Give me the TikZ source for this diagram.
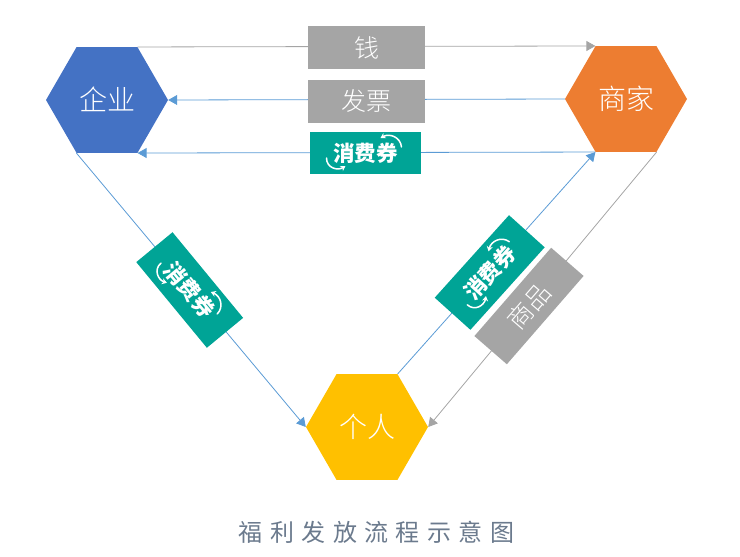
\documentclass[tikz,border=0pt]{standalone}
\usepackage{fontspec}
\setmainfont{Noto Sans CJK SC}[UprightFont=* Light,BoldFont=* Black]
\newfontfamily\titlefont{Noto Sans CJK SC}[LetterSpace=31]
\usetikzlibrary{shapes.geometric,arrows.meta}
\definecolor{hexblue}{HTML}{4472C4}
\definecolor{hexorange}{HTML}{ED7D31}
\definecolor{hexyellow}{HTML}{FFC000}
\definecolor{boxgray}{HTML}{A5A5A5}
\definecolor{boxteal}{HTML}{00A496}
\definecolor{linkblue}{HTML}{5B9BD5}
\definecolor{captionslate}{HTML}{6B7A8D}
\tikzset{
  x=1pt,y=-1pt,
  hexnode/.style={regular polygon,regular polygon sides=6,minimum size=122pt,inner sep=0pt,
    text=white,font=\fontsize{28}{30}\selectfont},
  graybox/.style={fill=boxgray,minimum width=117pt,minimum height=43pt,inner sep=0pt,
    text=white,font=\fontsize{25}{28}\selectfont},
  vouchertag/.style={fill=boxteal,minimum width=111pt,minimum height=42pt,inner sep=0pt,
    text=white,font=\fontsize{21.5}{24}\selectfont\bfseries},
  graylink/.style={draw=boxgray,line width=0.8pt,-{Triangle[length=9pt,width=10pt]}},
  bluelink/.style={draw=linkblue,line width=0.8pt,-{Triangle[length=9pt,width=10pt]}},
  swirl/.style={draw=white,line width=1.5pt,line cap=round,-{Stealth[length=5pt,width=6pt]}},
}
% Two curved arrows around the voucher lettering
\newcommand{\voucherswirls}[2]{%
  \begin{scope}[shift={(#1)},rotate=#2]
    \draw[swirl] (-39,5) .. controls (-39,15) and (-28,18) .. (-20,13);
    \draw[swirl] (36,-6) .. controls (35,-16) and (24,-20) .. (15,-15);
  \end{scope}}
\begin{document}
\begin{tikzpicture}
  \useasboundingbox (0,0) rectangle (740,557);

  % Parties
  \node[hexnode,fill=hexblue] (firm) at (107,100) {\raisebox{3pt}{企业}};
  \node[hexnode,fill=hexorange] (shop) at (626,99) {\raisebox{1pt}{商家}};
  \node[hexnode,fill=hexyellow] (person) at (367,427) {\raisebox{-2pt}{个人}};

  % Flows between the parties
  \draw[graylink] (firm.corner 1) -- (shop.corner 2);
  \draw[bluelink] (shop.corner 3) -- (firm.corner 6);
  \draw[bluelink] (shop.corner 4) -- (firm.corner 5);
  \draw[bluelink] (firm.corner 4) -- (person.corner 3);
  \draw[bluelink] (person.corner 1) -- (shop.corner 4);
  \draw[graylink] (shop.corner 5) -- (person.corner 6);

  % Labels on the flows
  \node[graybox] (money) at (366.5,47.5) {\raisebox{-1pt}{钱}};
  \node[graybox] (invoice) at (366.5,101.5) {\raisebox{-2pt}{发票}};
  \node[graybox,rotate=49] (goods) at (529,306) {商品};

  \node[vouchertag] (voucherTop) at (365.5,153) {消费券};
  \voucherswirls{365.5,153}{0}
  \node[vouchertag,rotate=-50.5,minimum height=47pt] (voucherLeft) at (189.7,290) {消费券};
  \voucherswirls{189.7,290}{-50.5}
  \node[vouchertag,rotate=48,minimum height=48pt] (voucherRight) at (489.7,272.5) {消费券};
  \voucherswirls{489.7,272.5}{48}

  % Caption
  \node[text=captionslate,font=\titlefont\fontsize{24}{28}\selectfont] (caption) at (376.5,532) {福利发放流程示意图};
\end{tikzpicture}
\end{document}
